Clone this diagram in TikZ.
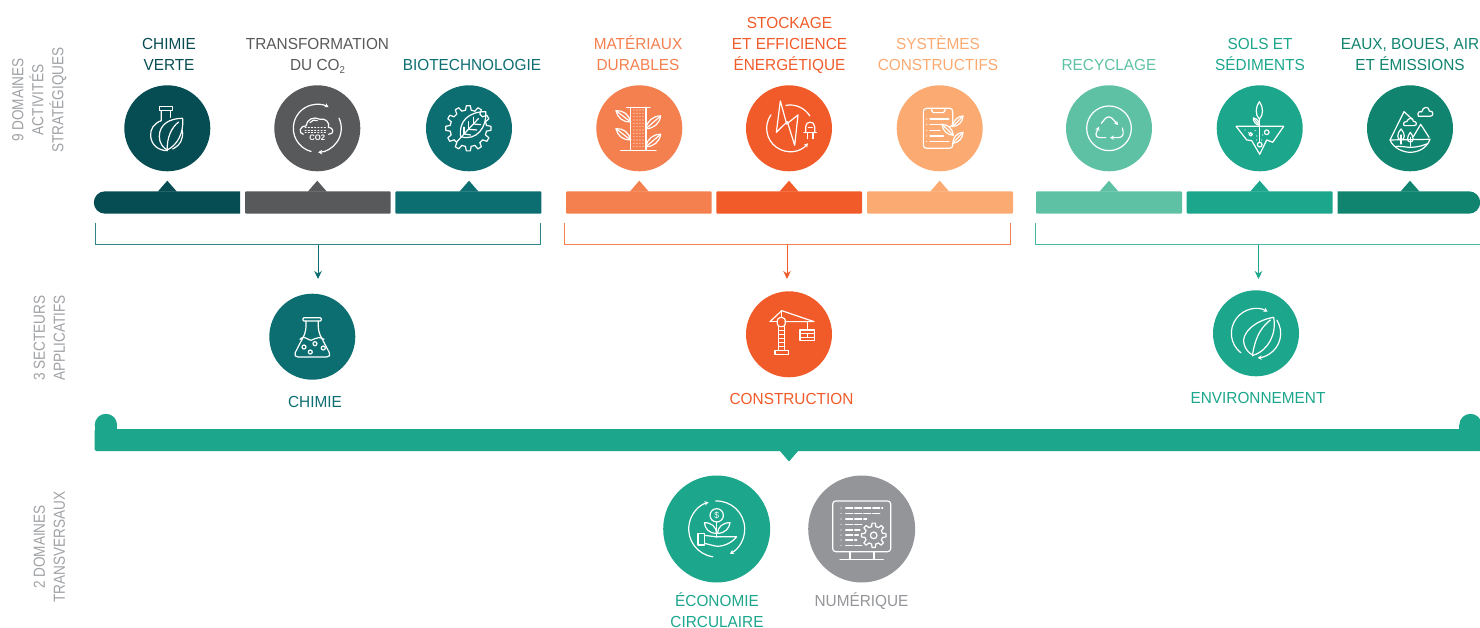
\documentclass[tikz,border=0pt]{standalone}
\usepackage{fontspec}
\setmainfont[FakeStretch=0.96]{Liberation Sans}
\newfontfamily\sidefont[FakeStretch=0.85]{Liberation Sans}
\usetikzlibrary{arrows.meta,calc}
\definecolor{cA}{HTML}{064C53}
\definecolor{cB}{HTML}{58595B}
\definecolor{cC}{HTML}{0D6E72}
\definecolor{cD}{HTML}{F47F4F}
\definecolor{cE}{HTML}{F15B2A}
\definecolor{cF}{HTML}{FBAA72}
\definecolor{cG}{HTML}{5FC1A4}
\definecolor{cH}{HTML}{1CA68C}
\definecolor{cI}{HTML}{10846F}
\definecolor{cJ}{HTML}{939598}
\definecolor{cK}{HTML}{9FA1A4}
\tikzset{
  x=1pt,y=-1pt,
  disc/.style={circle,inner sep=0pt,minimum size=86pt},
  bigdisc/.style={circle,inner sep=0pt,minimum size=107pt},
  lab/.style={align=center,font=\fontsize{16}{21}\selectfont,inner sep=0pt,anchor=base},
  side/.style={rotate=90,align=center,text=cK,font=\sidefont\fontsize{16}{20}\selectfont,inner sep=0pt},
  ic/.style={draw=white,line width=1.2pt,line cap=round,line join=round},
  tip/.style={-{Stealth[length=4pt,width=4.5pt]}},
  brk/.style={line width=1pt},
}
\newcommand{\barpiece}[4]{% colour, x1, x2, tip x
  \fill[#1,rounded corners=1pt] (#2,191.3) rectangle (#3,213.7);
  \fill[#1] (#4-9.5,191.6) -- (#4,180.7) -- (#4+9.5,191.6) -- cycle;}
\newcommand{\icn}[3]{\begin{scope}[shift={(#1)},x=0.3333pt,y=-0.3333pt,shift={(-#2,-#3)}]}
\newcommand{\arcp}[6][]{\draw[ic,#1] (#2,#3) ++(#5:#4) arc[start angle=#5,end angle=#6,radius=#4];}
\newcommand{\leaf}[4]{\draw[ic] (#1,#2) to[bend left=42] (#3,#4) to[bend left=42] (#1,#2); \draw[ic] (#1,#2) -- (#3,#4);}
\newcommand{\gearshape}[5]{% cx cy rin rout n
  \pgfmathsetmacro{\st}{360/#5}
  \foreach \k in {1,...,#5}{
    \pgfmathsetmacro{\aa}{\k*\st-0.30*\st}
    \pgfmathsetmacro{\ab}{\k*\st-0.17*\st}
    \pgfmathsetmacro{\ac}{\k*\st+0.17*\st}
    \pgfmathsetmacro{\ad}{\k*\st+0.30*\st}
    \pgfmathsetmacro{\ae}{\k*\st+0.70*\st}
    \draw[ic] (#1,#2) ++(\aa:#3) -- ($(#1,#2)+(\ab:#4)$) -- ($(#1,#2)+(\ac:#4)$) -- ($(#1,#2)+(\ad:#3)$) -- ($(#1,#2)+(\ae:#3)$);
  }}
\begin{document}
\begin{tikzpicture}
\useasboundingbox (0,0) rectangle (1480,628);
% side labels
\node[side] (t1) at (39.3,100) {9 DOMAINES\\ACTIVITÉS\\STRATÉGIQUES};
\node[side] (t2) at (49.3,338) {3 SECTEURS\\APPLICATIFS};
\node[side] (t3) at (49.3,547) {2 DOMAINES\\TRANSVERSAUX};
% top labels
\node[lab,text=cA] (l1) at (169,71) {CHIMIE\\VERTE};
\node[lab,text=cB] (l2) at (317.5,71) {TRANSFORMATION\\DU CO{\raisebox{-2.5pt}{\fontsize{10}{10}\selectfont 2}}};
\node[lab,text=cC] (l3) at (472,71) {BIOTECHNOLOGIE};
\node[lab,text=cD] (l4) at (638,71) {MATÉRIAUX\\DURABLES};
\node[lab,text=cE] (l5) at (789.5,71) {STOCKAGE\\ET EFFICIENCE\\ÉNERGÉTIQUE};
\node[lab,text=cF] (l6) at (938,71) {SYSTÈMES\\CONSTRUCTIFS};
\node[lab,text=cG] (l7) at (1109,71) {RECYCLAGE};
\node[lab,text=cH] (l8) at (1260,71) {SOLS ET\\SÉDIMENTS};
\node[lab,text=cI] (l9) at (1410,71) {EAUX, BOUES, AIR\\ET ÉMISSIONS};
% discs
\node[disc,fill=cA] (d1) at (167.3,128.3) {};
\node[disc,fill=cB] (d2) at (317.3,128.3) {};
\node[disc,fill=cC] (d3) at (469,128.3) {};
\node[disc,fill=cD] (d4) at (639.3,128.3) {};
\node[disc,fill=cE] (d5) at (789,128.3) {};
\node[disc,fill=cF] (d6) at (939.7,128.3) {};
\node[disc,fill=cG] (d7) at (1109,128.3) {};
\node[disc,fill=cH] (d8) at (1259.7,128.3) {};
\node[disc,fill=cI] (d9) at (1410,128.3) {};
% bars
\fill[cA] (105,191.3) arc[start angle=-90,end angle=-270,radius=11.2] -- (105,213.7) -- (240,213.7) -- (240,191.3) -- cycle;
\fill[cA] (167.3-9.5,191.6) -- (167.3,180.7) -- (167.3+9.5,191.6) -- cycle;
\barpiece{cB}{245}{390.7}{317.3}
\barpiece{cC}{395.3}{541.3}{469}
\barpiece{cD}{566}{711.7}{639.3}
\barpiece{cE}{716.3}{862}{789}
\barpiece{cF}{867}{1013}{939.7}
\barpiece{cG}{1036}{1182}{1109}
\barpiece{cH}{1186.7}{1332.7}{1259.7}
\fill[cI] (1337.5,191.3) -- (1469,191.3) arc[start angle=-90,end angle=90,radius=11.2] -- (1337.5,213.7) -- cycle;
\fill[cI] (1410-9.5,191.6) -- (1410,180.7) -- (1410+9.5,191.6) -- cycle;
% brackets and arrows
\coordinate (bk1) at (318,245);\coordinate (ar1) at (318,279);
\coordinate (bk2) at (787,245);\coordinate (ar2) at (787,279);
\coordinate (bk3) at (1258.5,245);\coordinate (ar3) at (1258.5,279);
\draw[cC!85!white,brk] (95.5,223) |- (540.5,245) -- (540.5,223);
\draw[cC,brk,-{Stealth[length=8pt,width=7.5pt]}] (bk1) -- (ar1);
\draw[cD,brk] (564.5,223) |- (1010,245) -- (1010,223);
\draw[cE,brk,-{Stealth[length=8pt,width=7.5pt]}] (bk2) -- (ar2);
\draw[cH!80!white,brk] (1035.7,223) |- (1480,245);
\draw[cH,brk,-{Stealth[length=8pt,width=7.5pt]}] (bk3) -- (ar3);
% sectors
\node[disc,fill=cC] (s1) at (312.3,336.7) {};
\node[disc,fill=cE] (s2) at (789,334.3) {};
\node[disc,fill=cH] (s3) at (1256,333.3) {};
\node[lab,text=cC] (sl1) at (315,407) {CHIMIE};
\node[lab,text=cE] (sl2) at (791.5,404.5) {CONSTRUCTION};
\node[lab,text=cH] (sl3) at (1258,403.5) {ENVIRONNEMENT};
% big bar
\fill[cH] (94.7,425) rectangle (117,449);
\fill[cH,rounded corners=1.5pt] (94.7,429) rectangle (1481,451);
\fill[cH] (1459,425) rectangle (1481,451);
\fill[cH] (105.9,425) circle[radius=11.2];
\fill[cH] (1470.5,425) circle[radius=11.2];
\fill[cH] (779.5,450.5) -- (789,461.5) -- (798.5,450.5) -- cycle;
% bottom
\node[bigdisc,fill=cH] (b1) at (716.7,529) {};
\node[bigdisc,fill=cJ] (b2) at (861.7,529) {};
\node[lab,text=cH] (bl1) at (717,627) {ÉCONOMIE\\CIRCULAIRE};
\node[lab,text=cJ] (bl2) at (861.5,606) {NUMÉRIQUE};
% ---- icon 1 flask and leaf
\icn{d1}{232}{145}
\draw[ic] (208,80) rectangle (248,92);
\draw[ic] (214,92) -- (214,122) .. controls (192,130) and (180,148) .. (182,168) .. controls (184,195) and (205,212) .. (232,212);
\draw[ic] (242,92) -- (242,112);
\draw[ic] (248,207) .. controls (270,197) and (282,175) .. (277,152);
\draw[ic] (278,115) .. controls (240,115) and (208,132) .. (208,170) .. controls (208,190) and (220,204) .. (232,210) .. controls (262,195) and (282,160) .. cycle;
\draw[ic] (232,212) .. controls (230,172) and (245,142) .. (266,126);
\end{scope}
% ---- icon 2 CO2
\icn{d2}{682}{145}
\arcp[tip]{682}{145}{72}{105}{298}
\arcp[tip]{682}{145}{72}{-25}{88}
\draw[ic] (640,163) .. controls (625,160) and (628,138) .. (648,138) .. controls (650,118) and (672,108) .. (690,118) .. controls (705,112) and (722,130) .. (715,142) .. controls (732,142) and (734,163) .. (716,163);
\draw[ic] (660,128) .. controls (665,120) and (675,118) .. (682,122);
\foreach \yy in {142,150,158}{\draw[ic,dotted,line width=.8pt] (645,\yy) -- (712,\yy);}
\node[text=white,font=\fontsize{8}{8}\selectfont\bfseries,inner sep=0pt] (co) at (682,174) {CO2};
\end{scope}
% ---- icon 3 gear leaf
\icn{d3}{1137}{145}
\gearshape{1135}{145}{55}{68}{12}
\draw[ic] (1187,95) .. controls (1135,95) and (1105,125) .. (1112,170) .. controls (1160,185) and (1192,140) .. cycle;
\draw[ic] (1100,186) -- (1165,116);
\draw[ic] (1135,148) -- (1135,125); \draw[ic] (1135,148) -- (1160,150);
\draw[ic] (1150,132) -- (1150,112); \draw[ic] (1150,132) -- (1172,134);
\draw[ic] (1122,162) -- (1122,142); \draw[ic] (1122,162) -- (1142,165);
\end{scope}
% ---- icon 4 tower with leaves
\icn{d4}{238}{145}
\draw[ic] (200,82) -- (270,82); \draw[ic] (182,212) -- (288,212);
\draw[ic] (212,82) -- (212,212); \draw[ic] (258,82) -- (258,212);
\foreach \xx in {222,231,240,249}{\foreach \yy in {90,100,...,200}{\fill[white] (\xx,\yy) circle[radius=1.7];}}
\leaf{168}{92}{212}{126}
\leaf{168}{146}{212}{180}
\leaf{302}{108}{258}{146}
\leaf{302}{163}{258}{200}
\end{scope}
% ---- icon 5 bolt and plug
\icn{d5}{687}{145}
\draw[ic] (661,63) -- (649,157) -- (682,125) -- (704,196) -- (714,105) -- (680,132) -- cycle;
\arcp{690}{145}{70}{-100}{-32}
\arcp[tip]{690}{145}{70}{215}{40}
\draw[ic] (732,158) -- (770,158);
\draw[ic] (737,158) -- (737,140) .. controls (737,122) and (764,122) .. (764,140) -- (764,158);
\draw[ic] (742,158) -- (742,176); \draw[ic] (759,158) -- (759,176);
\draw[ic] (745,143) -- (757,143);
\end{scope}
% ---- icon 6 clipboard
\icn{d6}{1139}{145}
\draw[ic,rounded corners=3pt] (1172,140) -- (1178,140) -- (1178,85) -- (1090,85) -- (1090,205) -- (1178,205) -- (1178,190);
\draw[ic] (1115,85) -- (1115,92) -- (1120,98) -- (1150,98) -- (1155,92) -- (1155,85);
\foreach \yy/\e in {117/1166,134/1150,151/1140,168/1150,185/1166}{\fill[white] (1100,\yy) circle[radius=1.8]; \draw[ic] (1110,\yy) -- (\e,\yy);}
\leaf{1209}{108}{1178}{140}
\leaf{1146}{133}{1180}{166}
\leaf{1209}{157}{1178}{190}
\end{scope}
% ---- icon 7 recycling
\icn{d7}{237}{145}
\draw[ic] (237,145) circle[radius=67];
\draw[ic,tip,rounded corners=6pt] (214,130) -- (236,103) -- (264,135);
\draw[ic,tip,rounded corners=6pt] (277,144) -- (283,173) -- (240,173);
\draw[ic,tip,rounded corners=6pt] (227,173) -- (192,173) -- (207,140);
\end{scope}
% ---- icon 8 soil and plant
\icn{d8}{689}{145}
\draw[ic] (618,139) -- (761,139) -- (728,187) -- (710,180) -- (689,223) -- (665,182) -- (650,180) -- cycle;
\draw[ic] (688,65) .. controls (676,80) and (675,105) .. (688,118) .. controls (701,105) and (700,80) .. cycle;
\draw[ic] (688,118) -- (688,185);
\leaf{670}{114}{688}{136}
\draw[ic] (710,157) circle[radius=7];
\draw[ic] (662,163) circle[radius=5];
\draw[ic] (689,194) circle[radius=7];
\foreach \p/\q in {645/150,655/158,675/152,680/168,698/165,695/180,680/180}{\fill[white] (\p,\q) circle[radius=1.8];}
\end{scope}
% ---- icon 9 landscape
\icn{d9}{1140}{145}
\draw[ic] (1147,118) -- (1122,95) -- (1080,180) .. controls (1090,205) and (1120,217) .. (1140,217) .. controls (1165,217) and (1190,205) .. (1200,178) -- (1080,180);
\draw[ic] (1150,170) -- (1172,133) -- (1197,172);
\draw[ic] (1165,109) .. controls (1160,98) and (1170,92) .. (1175,96) .. controls (1178,78) and (1198,78) .. (1198,93) .. controls (1212,92) and (1212,109) .. (1200,109) -- cycle;
\draw[ic] (1122,137) .. controls (1118,128) and (1125,122) .. (1130,125) .. controls (1135,112) and (1150,112) .. (1150,124) .. controls (1162,124) and (1162,137) .. (1152,137) -- cycle;
\draw[ic] (1113,147) .. controls (1100,160) and (1100,180) .. (1113,180) .. controls (1126,180) and (1126,160) .. cycle;
\draw[ic] (1113,165) -- (1113,192);
\draw[ic] (1141,157) .. controls (1130,170) and (1130,186) .. (1141,186) .. controls (1152,186) and (1152,170) .. cycle;
\draw[ic] (1141,172) -- (1141,198);
\draw[ic] (1095,200) .. controls (1120,195) and (1140,212) .. (1190,192);
\end{scope}
% ---- sector chimie
\icn{s1}{187}{170}
\draw[ic,rounded corners=1pt] (159,113) rectangle (214,123);
\draw[ic,rounded corners=5pt] (168,123) -- (168,155) -- (129,231) -- (245,231) -- (205,155) -- (205,123);
\draw[ic] (150,178) .. controls (158,170) and (166,170) .. (172,176) .. controls (180,182) and (188,182) .. (195,176) .. controls (202,170) and (212,172) .. (222,178);
\draw[ic] (162,201) circle[radius=6];
\draw[ic] (195,191) circle[radius=6];
\draw[ic] (220,204) circle[radius=6];
\draw[ic] (181,216) circle[radius=6];
\end{scope}
% ---- sector crane
\icn{s2}{177}{163}
\draw[ic] (120,125) -- (155,92) -- (252,125) -- (165,125);
\draw[ic] (120,125) -- (142,125); \draw[ic] (155,92) -- (155,112);
\draw[ic,rounded corners=3pt] (142,113) rectangle (166,140);
\draw[ic] (146,140) -- (146,212); \draw[ic] (164,140) -- (164,212);
\foreach \yy in {152,164,176,188,200}{\draw[ic] (146,\yy) -- (164,\yy);}
\draw[ic] (135,223) -- (135,212) -- (175,212) -- (175,223) -- cycle;
\draw[ic] (232,125) -- (232,150);
\draw[ic] (210,150) rectangle (253,182);
\draw[ic] (210,161) -- (253,161); \draw[ic] (210,172) -- (253,172);
\draw[ic] (232,161) -- (232,172);
\end{scope}
% ---- sector environment
\icn{s3}{183}{160}
\arcp[tip]{183}{160}{74}{128}{298}
\arcp[tip]{183}{160}{74}{-32}{86}
\draw[ic] (236,112) .. controls (175,122) and (135,165) .. (148,195) .. controls (152,210) and (165,222) .. (175,226) .. controls (222,210) and (245,160) .. cycle;
\draw[ic] (172,228) .. controls (180,175) and (195,145) .. (226,120);
\end{scope}
% ---- economy
\icn{b1}{230}{267}
\arcp[tip]{230}{267}{84}{-92}{62}
\arcp[tip]{230}{267}{84}{98}{253}
\draw[ic] (230,226) circle[radius=20];
\node[text=white,font=\fontsize{9}{9}\selectfont,inner sep=0pt] (dol) at (230,226) {\$};
\draw[ic] (230,246) -- (230,292);
\draw[ic] (230,280) .. controls (205,280) and (195,265) .. (193,248) .. controls (215,248) and (228,260) .. cycle;
\draw[ic] (232,280) .. controls (255,280) and (268,265) .. (270,248) .. controls (248,248) and (234,260) .. cycle;
\draw[ic] (174,280) rectangle (193,315);
\draw[ic] (193,286) -- (225,290) -- (290,290) .. controls (275,310) and (245,322) .. (225,318) -- (193,310);
\end{scope}
% ---- numeric
\icn{b2}{665}{267}
\draw[ic,rounded corners=3pt] (578,183) rectangle (752,335);
\draw[ic] (630,335) -- (630,357); \draw[ic] (702,335) -- (702,357);
\draw[ic] (600,358) -- (730,358);
\foreach \yy/\e in {204/728,220/725,237/680,253/665,270/660,285/655,300/650,316/665}{\fill[white] (603,\yy) circle[radius=1.8]; \draw[ic,dash pattern=on 7pt off 2pt] (617,\yy) -- (\e,\yy);}
\fill[cJ] (701,286) circle[radius=40];
\gearshape{701}{286}{27}{37}{8}
\draw[ic] (701,286) circle[radius=10];
\end{scope}
\end{tikzpicture}
\end{document}
